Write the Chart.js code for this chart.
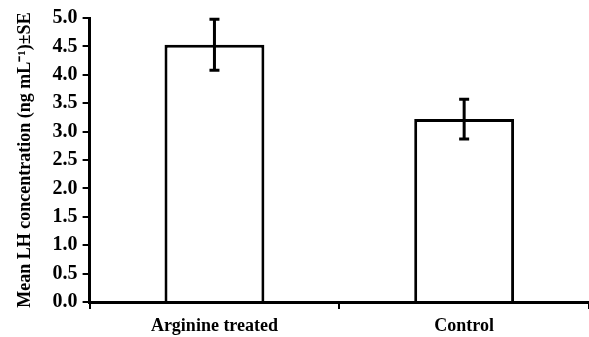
<!DOCTYPE html>
<html>
<head>
<meta charset="utf-8">
<script src="https://cdn.jsdelivr.net/npm/chart.js@4"></script>
<style>
  html, body { margin: 0; padding: 0; background: #fff; }
</style>
</head>
<body>
<canvas id="grafico" width="589" height="337"></canvas>
<script>
const categorias = ['Arginine treated', 'Control'];
const medias = [4.53, 3.22];
const erros = [0.45, 0.35];
const yTicks = [0, 0.5, 1, 1.5, 2, 2.5, 3, 3.5, 4, 4.5, 5];

// barras de erro (SE) desenhadas sobre as barras
const errorBars = {
    id: 'errorBars',
    afterDatasetsDraw(chart) {
        const ctx = chart.ctx;
        const y = chart.scales.y;
        const meta = chart.getDatasetMeta(0);
        ctx.save();
        ctx.strokeStyle = '#000';
        ctx.lineWidth = 3;
        meta.data.forEach((bar, i) => {
            const top = y.getPixelForValue(medias[i] + erros[i]);
            const bot = y.getPixelForValue(medias[i] - erros[i]);
            ctx.beginPath();
            ctx.moveTo(bar.x, top);
            ctx.lineTo(bar.x, bot);
            ctx.moveTo(bar.x - 5, top);
            ctx.lineTo(bar.x + 5, top);
            ctx.moveTo(bar.x - 5, bot);
            ctx.lineTo(bar.x + 5, bot);
            ctx.stroke();
        });
        ctx.restore();
    }
};

new Chart(document.getElementById('grafico').getContext('2d'), {
    type: 'bar',
    data: {
        labels: categorias,
        datasets: [{
            data: medias,
            backgroundColor: '#fff',
            borderColor: '#000',
            borderWidth: 3,
            borderSkipped: 'bottom',
            categoryPercentage: 1,
            barPercentage: 0.4
        }]
    },
    options: {
        responsive: false,
        animation: false,
        layout: { padding: { top: 18, right: 0, bottom: 0, left: 15 } },
        plugins: { legend: { display: false }, tooltip: { enabled: false } },
        scales: {
            x: {
                afterFit: (axis) => { axis.height = 35; },
                grid: { drawOnChartArea: false, color: '#000', lineWidth: 2, tickLength: 7 },
                border: { color: '#000', width: 3 },
                ticks: { color: '#000', font: { family: 'Liberation Serif', size: 18, weight: 'bold' }, padding: 7 }
            },
            y: {
                min: 0,
                max: 5,
                afterBuildTicks: (axis) => { axis.ticks = yTicks.map(v => ({ value: v })); },
                grid: { drawOnChartArea: false, color: '#000', lineWidth: 2, tickLength: 7 },
                border: { color: '#000', width: 3 },
                ticks: {
                    color: '#000',
                    font: { family: 'Liberation Serif', size: 20, weight: 'bold' },
                    padding: 5,
                    callback: (v) => Number(v).toFixed(1)
                },
                title: {
                    display: true,
                    text: 'Mean LH concentration (ng mL\u207B\u00B9)\u00B1SE',
                    color: '#000',
                    font: { family: 'Liberation Serif', size: 18, weight: 'bold' },
                    padding: { top: 0, bottom: 11 }
                }
            }
        }
    },
    plugins: [errorBars]
});
</script>
</body>
</html>
